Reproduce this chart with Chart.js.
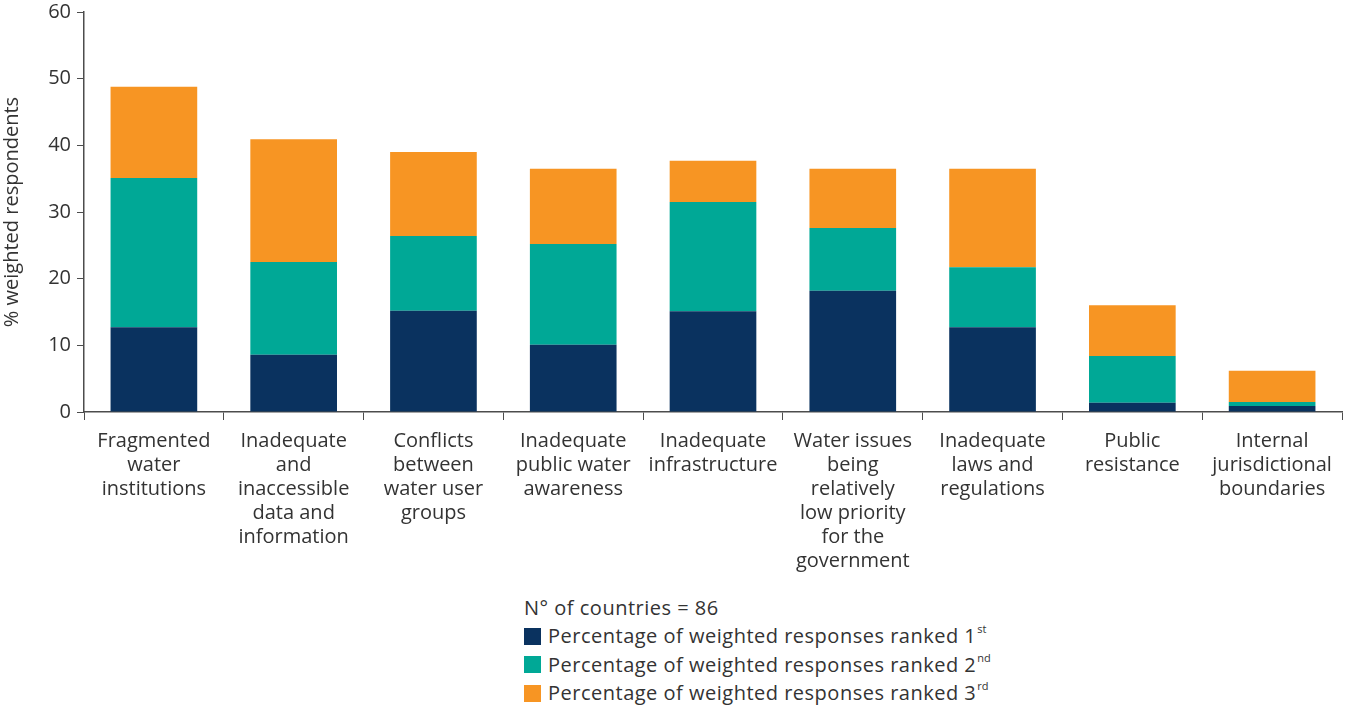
<!DOCTYPE html>
<html>
<head>
<meta charset="utf-8">
<script src="https://cdn.jsdelivr.net/npm/chart.js@4/dist/chart.umd.min.js"></script>
<style>
  body { margin: 0; background: #fff; font-family: "Open Sans", sans-serif; color: #333; }
  #wrap { position: relative; width: 1347px; height: 590px; }
  #chart { position: absolute; left: 0; top: -6px; }
  #legend { position: absolute; left: 524px; top: 594px; font-size: 20px; line-height: 28.3px; color: #333; letter-spacing: 0.5px; }
  .item { display: flex; align-items: center; }
  .box { width: 17px; height: 17px; margin-right: 7px; }
  .sup { font-size: 11px; position: relative; top: -7px; letter-spacing: 0; margin-left: 1px; }
</style>
</head>
<body>
<div id="wrap"><canvas id="chart" width="1347" height="596"></canvas></div>
<div id="legend">
  <div>N° of countries = 86</div>
  <div class="item"><span class="box" style="background:#0a325f"></span>Percentage of weighted responses ranked 1<span class="sup">st</span></div>
  <div class="item"><span class="box" style="background:#00a896"></span>Percentage of weighted responses ranked 2<span class="sup">nd</span></div>
  <div class="item"><span class="box" style="background:#f79523"></span>Percentage of weighted responses ranked 3<span class="sup">rd</span></div>
</div>
<script>
// categories, each split into lines like the original
const categories = [
  ['Fragmented', 'water', 'institutions'],
  ['Inadequate', 'and', 'inaccessible', 'data and', 'information'],
  ['Conflicts', 'between', 'water user', 'groups'],
  ['Inadequate', 'public water', 'awareness'],
  ['Inadequate', 'infrastructure'],
  ['Water issues', 'being', 'relatively', 'low priority', 'for the', 'government'],
  ['Inadequate', 'laws and', 'regulations'],
  ['Public', 'resistance'],
  ['Internal', 'jurisdictional', 'boundaries']
];
const ranked1 = [12.7, 8.6, 15.2, 10.1, 15.1, 18.2, 12.7, 1.4, 0.9];
const ranked2 = [22.4, 13.9, 11.2, 15.1, 16.4, 9.4, 9.0, 7.0, 0.6];
const ranked3 = [13.7, 18.4, 12.6, 11.3, 6.2, 8.9, 14.8, 7.6, 4.7];
const yTicks = [0, 10, 20, 30, 40, 50, 60];

const axisColor = '#4d4d4d';
const textColor = '#333';

new Chart(document.getElementById('chart'), {
  type: 'bar',
  data: {
    labels: categories,
    datasets: [
      { label: 'Ranked 1st', data: ranked1, backgroundColor: '#0a325f' },
      { label: 'Ranked 2nd', data: ranked2, backgroundColor: '#00a896' },
      { label: 'Ranked 3rd', data: ranked3, backgroundColor: '#f79523' }
    ]
  },
  options: {
    responsive: false,
    animation: false,
    layout: { padding: { top: 9, right: 5, left: 0, bottom: 0 } },
    datasets: { bar: { categoryPercentage: 1, barPercentage: 0.62 } },
    plugins: { legend: { display: false }, tooltip: { enabled: false } },
    scales: {
      x: {
        stacked: true,
        grid: { drawOnChartArea: false, drawTicks: true, tickLength: 8, color: axisColor, offset: true },
        border: { color: axisColor, width: 1.5 },
        ticks: { color: textColor, padding: 9, maxRotation: 0, autoSkip: false,
                 font: { family: 'Open Sans', size: 20, lineHeight: 1.2 } },
        afterFit: s => { s.height = 178; }
      },
      y: {
        stacked: true,
        min: 0, max: 60,
        afterBuildTicks: s => { s.ticks = yTicks.map(v => ({ value: v })); },
        grid: { drawOnChartArea: false, drawTicks: true, tickLength: 7, color: axisColor },
        border: { color: axisColor, width: 1.5 },
        ticks: { color: textColor, padding: 6, font: { family: 'Open Sans', size: 20 } },
        title: { display: true, text: '% weighted respondents', color: textColor,
                 font: { family: 'Open Sans', size: 20 }, padding: 0 },
        afterFit: s => { s.width = 84; }
      }
    }
  }
});
</script>
</body>
</html>
